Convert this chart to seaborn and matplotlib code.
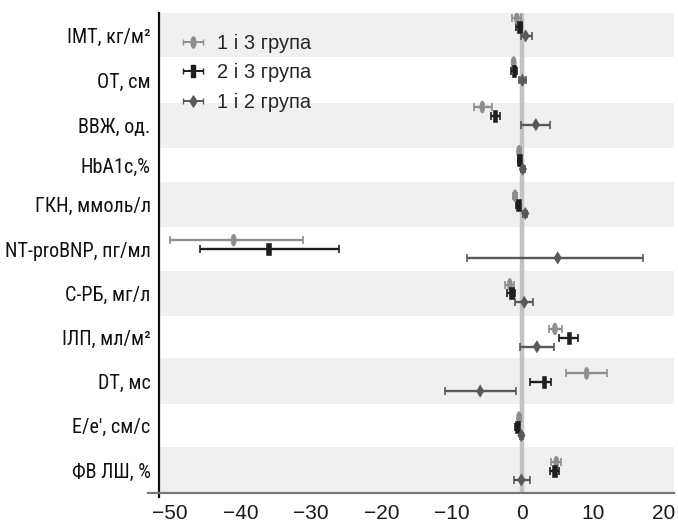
import numpy as np
import pandas as pd
import matplotlib
matplotlib.use("Agg")
import matplotlib.pyplot as plt
import seaborn as sns
from matplotlib.path import Path
from matplotlib import font_manager
from matplotlib.font_manager import FontProperties

# --- DATA ---
показники = ["ІМТ, кг/м²", "ОТ, см", "ВВЖ, од.", "HbA1c,%", "ГКН, ммоль/л",
             "NT-proBNP, пг/мл", "С-РБ, мг/л", "ІЛП, мл/м²", "DT, мс",
             "E/e′, см/с", "ФВ ЛШ, %"]
групи = ["1 і 3 група", "2 і 3 група", "1 і 2 група"]

mean_13 = [-0.8, -1.25, -5.7, -0.5, -1.05, -41.0, -1.8, 4.6, 9.1, -0.5, 4.8]
lo_13 = [-1.5, -1.5, -6.9, -0.7, -1.3, -50.0, -2.5, 3.7, 6.2, -0.7, 4.05]
hi_13 = [-0.15, -1.0, -4.3, -0.25, -0.8, -31.1, -1.2, 5.6, 12.05, -0.25, 5.5]

mean_23 = [-0.45, -1.2, -3.9, -0.45, -0.6, -36.0, -1.6, 6.6, 3.05, -0.7, 4.6]
lo_23 = [-0.85, -1.65, -4.45, -0.65, -0.85, -45.8, -2.25, 5.2, 1.05, -1.0, 3.9]
hi_23 = [-0.05, -0.75, -3.2, -0.2, -0.3, -26.0, -1.05, 7.9, 4.1, -0.45, 5.25]

mean_12 = [0.45, 0.0, 1.9, 0.05, 0.4, 5.0, 0.25, 2.05, -6.0, -0.15, -0.15]
lo_12 = [-0.25, -0.5, -0.25, -0.2, 0.1, -7.9, -1.1, -0.35, -11.0, -0.4, -1.25]
hi_12 = [1.3, 0.5, 3.9, 0.3, 0.65, 17.1, 1.5, 4.5, -0.9, 0.1, 1.1]

x_ticks = [-50, -40, -30, -20, -10, 0, 10, 20]

# --- LAYOUT: row bands (edges in row units, as in the original figure) ---
межі = [-0.315, 0.676, 1.712, 2.725, 3.491, 4.505, 5.495, 6.509, 7.455,
        8.491, 9.459, 10.495]

# --- STYLE ---
sns.set_style("white")
plt.rcParams["font.family"] = ["Liberation Sans", "DejaVu Sans"]
plt.rcParams["axes.unicode_minus"] = True


def condensed_font():
    # шукаємо вузький шрифт з кирилицею
    pref = ["Liberation Sans Narrow", "Roboto Condensed", "Open Sans Condensed",
            "DejaVu Sans", "Noto Sans"]
    cands = []
    for f in font_manager.fontManager.ttflist:
        narrowish = (f.stretch in ("condensed", "semi-condensed", "extra-condensed")
                     or "Narrow" in f.name or "Condensed" in f.name)
        if not narrowish or f.style != "normal":
            continue
        if f.weight not in (400, "normal", "regular", "book"):
            continue
        if "Mono" in f.name or "Serif" in f.name:
            continue
        rank = next((i for i, p in enumerate(pref) if f.name.startswith(p)), 99)
        cands.append((rank, f.fname))
    if cands:
        return FontProperties(fname=sorted(cands)[0][1], size=14.5)
    return FontProperties(family="Liberation Sans", size=12.5)


fp_labels = condensed_font()

кольори = {"1 і 3 група": "#8e8e8e", "2 і 3 група": "#1e1e1e", "1 і 2 група": "#585858"}
ellipse = Path.unit_circle().transformed(matplotlib.transforms.Affine2D().scale(0.42, 1.0))
rect = Path([(-0.4, -1), (0.4, -1), (0.4, 1), (-0.4, 1), (-0.4, -1)],
            [Path.MOVETO, Path.LINETO, Path.LINETO, Path.LINETO, Path.CLOSEPOLY])
diamond = Path([(0, -1), (0.62, 0), (0, 1), (-0.62, 0), (0, -1)],
               [Path.MOVETO, Path.LINETO, Path.LINETO, Path.LINETO, Path.CLOSEPOLY])
маркери = {"1 і 3 група": ellipse, "2 і 3 група": rect, "1 і 2 група": diamond}
зсув = {"1 і 3 група": -0.2, "2 і 3 група": 0.0, "1 і 2 група": 0.2}

# --- TABLE ---
рядки = []
for g, m, lo, hi in zip(групи, [mean_13, mean_23, mean_12],
                        [lo_13, lo_23, lo_12], [hi_13, hi_23, hi_12]):
    for i, p in enumerate(показники):
        рядки.append({"показник": p, "група": g, "y": i + зсув[g],
                      "mean": m[i], "lo": lo[i], "hi": hi[i]})
df = pd.DataFrame(рядки)

# --- FIGURE ---
fig, ax = plt.subplots(figsize=(6.78, 5.29), dpi=100)
fig.subplots_adjust(left=0.2345, right=0.994, top=0.9754, bottom=0.068)

for k in range(0, len(межі) - 1, 2):
    ax.axhspan(межі[k], межі[k + 1], color="#f0f0f0", lw=0, zorder=0)
ax.axvline(0, color="#c2c2c2", lw=3.2, zorder=1)

for g in групи:
    d = df[df["група"] == g]
    ax.errorbar(d["mean"], d["y"], xerr=[d["mean"] - d["lo"], d["hi"] - d["mean"]],
                fmt="none", ecolor=кольори[g], elinewidth=1.7, capsize=3,
                capthick=1.2, zorder=2)

sns.scatterplot(data=df, x="mean", y="y", hue="група", style="група",
                palette=кольори, markers=маркери, s=75, linewidth=0.4,
                legend=False, zorder=3, ax=ax)
sc = ax.collections[-1]
sc.set_edgecolor(sc.get_facecolor())

# legend proxies
handles = []
for g in групи:
    h = ax.errorbar([np.nan], [np.nan], xerr=[[1], [1]], linestyle="none",
                    marker=маркери[g], color=кольори[g], ecolor=кольори[g],
                    ms=8, elinewidth=1.4, capsize=2, capthick=1, label=g)
    handles.append(h)
ax.legend(handles=handles, labels=групи, loc="upper left",
          bbox_to_anchor=(0.015, 0.995), frameon=False, fontsize=14.5,
          handlelength=0.8, handletextpad=0.8, labelspacing=0.52)

ax.set_xlim(-51.6, 21.5)
ax.set_ylim(межі[-1], межі[0])
ax.set_xticks(x_ticks)
центри = [(a + b) / 2 for a, b in zip(межі[:-1], межі[1:])]
ax.set_yticks(центри)
ax.set_yticklabels(показники, fontproperties=fp_labels)
ax.set_xlabel("")
ax.set_ylabel("")
ax.tick_params(axis="x", labelsize=15, length=5, width=1.2, color="#777777",
               direction="out", pad=3, labelcolor="#1a1a1a")
ax.tick_params(axis="y", length=0, pad=6, labelcolor="#111111")

for s in ["top", "right"]:
    ax.spines[s].set_visible(False)
ax.spines["left"].set_color("#111111")
ax.spines["left"].set_linewidth(1.6)
ax.spines["left"].set_bounds(межі[-1] + 0.1, межі[0])
ax.spines["bottom"].set_color("#777777")
ax.spines["bottom"].set_linewidth(1.6)
ax.spines["bottom"].set_bounds(-53.2, 21.5)

fig.savefig("out.png", dpi=100)
